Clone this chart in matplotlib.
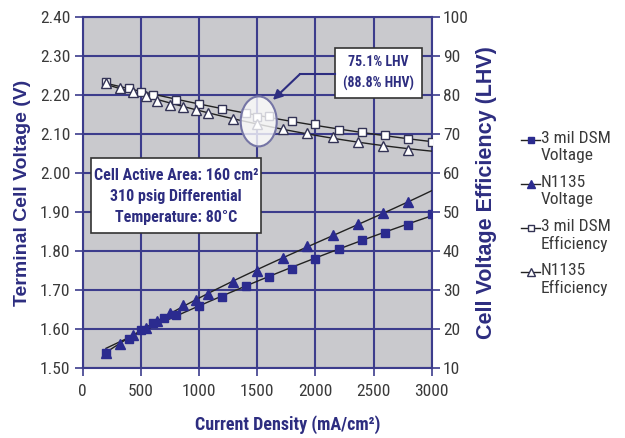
import numpy as np
import matplotlib
matplotlib.use("Agg")
import matplotlib.pyplot as plt
from matplotlib.patches import Ellipse, Rectangle
from matplotlib.lines import Line2D
from matplotlib import font_manager

# ---- data ----
dsm_v_x = [200, 400, 500, 600, 700, 800, 1000, 1200, 1400, 1600, 1800, 2000, 2200, 2400, 2600, 2800, 3000]
dsm_v_y = [1.54, 1.575, 1.598, 1.615, 1.628, 1.636, 1.660, 1.682, 1.711, 1.734, 1.753, 1.779, 1.806, 1.829, 1.847, 1.868, 1.895]

n_v_x = [200, 320, 430, 540, 640, 750, 860, 970, 1080, 1290, 1500, 1720, 1930, 2150, 2370, 2580, 2800]
n_v_y = [1.54, 1.563, 1.585, 1.603, 1.622, 1.641, 1.662, 1.675, 1.690, 1.721, 1.750, 1.783, 1.812, 1.840, 1.869, 1.898, 1.925]

dsm_e_x = [200, 400, 500, 600, 800, 1000, 1200, 1400, 1500, 1600, 1800, 2000, 2200, 2400, 2600, 2800, 3000]
dsm_e_y = [83.3, 81.7, 80.6, 80.0, 78.8, 77.7, 76.4, 75.3, 74.3, 74.5, 73.4, 72.5, 71.1, 70.5, 69.6, 68.8, 67.8]

n_e_x = [200, 320, 430, 540, 640, 750, 860, 970, 1080, 1290, 1500, 1720, 1930, 2150, 2370, 2580, 2800]
n_e_y = [83.0, 81.8, 80.8, 79.8, 78.4, 77.4, 76.8, 76.1, 75.4, 73.8, 72.6, 71.3, 70.3, 69.3, 68.0, 67.0, 65.8]

x_ticks = [0, 500, 1000, 1500, 2000, 2500, 3000]
v_ticks = [1.50, 1.60, 1.70, 1.80, 1.90, 2.00, 2.10, 2.20, 2.30, 2.40]
e_ticks = [10, 20, 30, 40, 50, 60, 70, 80, 90, 100]

labels = ["3 mil DSM\nVoltage", "N1135\nVoltage", "3 mil DSM\nEfficiency", "N1135\nEfficiency"]

# ---- fonts ----
ents = font_manager.fontManager.ttflist
names = {f.name for f in ents}
bold_names = {f.name for f in ents if (f.weight if isinstance(f.weight, int) else 400) >= 700}
cands = ['Liberation Sans Narrow', 'Arial Narrow', 'Roboto Condensed', 'Archivo Narrow',
         'PT Sans Narrow', 'Barlow Semi Condensed', 'Asap Condensed']
reg = next((c for c in cands if c in names), 'Liberation Sans')
bld = next((c for c in cands if c in bold_names), 'Liberation Sans')
plt.rcParams['font.family'] = [reg, 'DejaVu Sans']

NAVY = "#2d2d80"
GRID = "#3c3c8c"
TXT = "#3a3a3a"
BG = "#c9c9cd"
MK = "#2b2b8f"

W, H = 625, 438
fig = plt.figure(figsize=(W/100, H/100), dpi=100)
ax = fig.add_axes([82.7/W, (H-368.3)/H, 349/W, 351.6/H])
ax.set_facecolor(BG)
ax.set_xlim(0, 3000)
ax.set_ylim(1.50, 2.40)
ax.set_xticks(x_ticks)
ax.set_yticks(v_ticks)
ax.set_yticklabels([f"{v:.2f}" for v in v_ticks])
ax.grid(True, color=GRID, lw=1.5, zorder=0)
ax.set_axisbelow(True)
for s in ax.spines.values():
    s.set_color(GRID)
    s.set_linewidth(1.5)
ax.tick_params(axis='both', colors=GRID, labelcolor=TXT, labelsize=12.5, length=6, width=1.2)
ax.tick_params(axis='x', pad=5)
ax.tick_params(axis='y', pad=3)

ax2 = ax.twinx()
ax2.set_ylim(10, 100)
ax2.set_yticks(e_ticks)
ax2.tick_params(axis='y', colors=GRID, labelcolor=TXT, labelsize=12.5, length=6, width=1.2, pad=2)
for s in ax2.spines.values():
    s.set_visible(False)

def trend(ax_, xs, ys, deg=2):
    c = np.polyfit(xs, ys, deg)
    xx = np.linspace(min(xs), 3000, 100)
    ax_.plot(xx, np.polyval(c, xx), color="#222222", lw=1.0, zorder=3)

trend(ax, dsm_v_x, dsm_v_y)
trend(ax, n_v_x, n_v_y, 3)
trend(ax2, dsm_e_x, dsm_e_y)
trend(ax2, n_e_x, n_e_y)

ax.plot(dsm_v_x, dsm_v_y, 's', color=MK, ms=6, zorder=4)
ax.plot(n_v_x, n_v_y, '^', color=MK, ms=7, zorder=4)
ax2.plot(dsm_e_x, dsm_e_y, 's', mfc='white', mec="#333355", mew=1.0, ms=6, zorder=4)
ax2.plot(n_e_x, n_e_y, '^', mfc='white', mec="#333355", mew=1.0, ms=7, zorder=4)

# circle highlight
ell = Ellipse((1513, 73.2), 310, 12.8, facecolor=(1, 1, 1, 0.78), edgecolor="#7575a5", lw=1.5, zorder=5)
ax2.add_patch(ell)

# text boxes
ax.add_patch(Rectangle((72, 1.846), 1463, 0.192, facecolor='white', edgecolor='#333333', lw=1.2, zorder=6))
ax.text(804, 1.940, "Cell Active Area: 160 cm²\n310 psig Differential\nTemperature: 80°C",
        ha='center', va='center', fontsize=11.5, fontweight='bold', family=[bld, 'DejaVu Sans'],
        color=NAVY, linespacing=1.5, zorder=7)
ax.add_patch(Rectangle((2168, 2.192), 748, 0.128, facecolor='white', edgecolor='#333333', lw=1.2, zorder=6))
ax.text(2542, 2.256, "75.1% LHV\n(88.8% HHV)", ha='center', va='center', fontsize=10,
        fontweight='bold', family=[bld, 'DejaVu Sans'], color=NAVY, linespacing=1.6, zorder=7)
ax.plot([2168, 1867], [2.253, 2.253], color=NAVY, lw=1.5, zorder=6)
ax.annotate("", xy=(1635, 2.187), xytext=(1867, 2.253),
            arrowprops=dict(arrowstyle='-|>', color=NAVY, lw=1.5, mutation_scale=14,
                            shrinkA=0, shrinkB=0), zorder=6)

ax.set_ylabel("Terminal Cell Voltage (V)", fontsize=14, fontweight='bold', color=NAVY,
              family=['Liberation Sans', 'DejaVu Sans'], labelpad=6)
ax2.set_ylabel("Cell Voltage Efficiency (LHV)", fontsize=15.5, fontweight='bold', color=NAVY,
               family=['Liberation Sans', 'DejaVu Sans'], labelpad=5)
fig.text(288/W, 1 - 425/H, "Current Density (mA/cm²)", ha='center', va='center',
         fontsize=13, fontweight='bold', color=NAVY, family=[bld, 'DejaVu Sans'])

# legend (drawn manually so the handle sits on the first text line)
handles = [dict(marker='s', mfc=MK, mec=MK, ms=5),
           dict(marker='^', mfc=MK, mec=MK, ms=6),
           dict(marker='s', mfc='white', mec='#333355', ms=5),
           dict(marker='^', mfc='white', mec='#333355', ms=6)]
for i, (lab, hd) in enumerate(zip(labels, handles)):
    yp = 1 - (140 + 44 * i) / H
    fig.add_artist(Line2D([521/W, 540/W], [yp, yp], color='#222222', lw=1, transform=fig.transFigure))
    fig.add_artist(Line2D([530.5/W], [yp], transform=fig.transFigure, linestyle='none', **hd))
    fig.text(541/W, yp, lab, ha='left', va='top', fontsize=12.5, color=TXT, linespacing=1.15,
             transform=fig.transFigure).set_y(1 - (140 + 44 * i - 9) / H)

fig.savefig("out.png", dpi=100)
